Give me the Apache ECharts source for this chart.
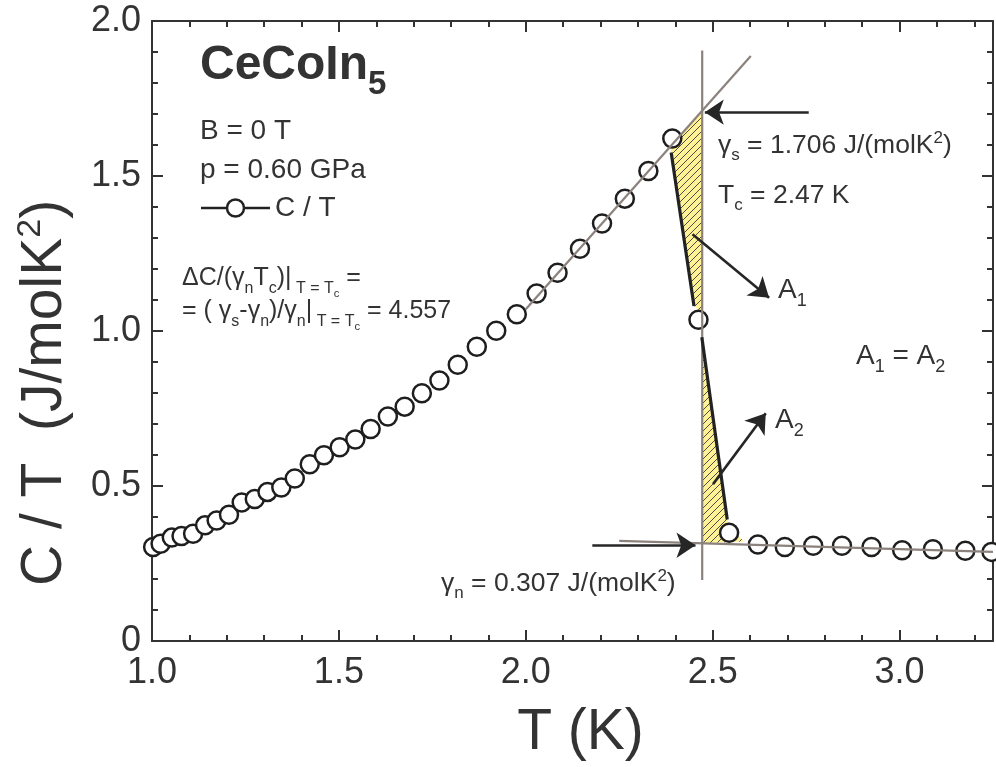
<!DOCTYPE html>
<html><head><meta charset="utf-8">
<script src="https://cdn.jsdelivr.net/npm/echarts@6/dist/echarts.min.js"></script>
<style>html,body{margin:0;padding:0;background:#fff}#c{width:996px;height:767px}</style>
</head><body><div id="c"></div>
<script>
// ---- data ----
const temperature = [1.003,1.023,1.053,1.079,1.110,1.142,1.173,1.206,1.240,1.275,1.309,1.346,1.382,1.422,1.460,1.502,1.544,1.585,1.631,1.676,1.722,1.769,1.818,1.869,1.921,1.976,2.029,2.085,2.145,2.204,2.265,2.328,2.392,2.462,2.544,2.621,2.693,2.769,2.846,2.925,3.007,3.089,3.176,3.246];
const cOverT = [0.3035,0.314,0.3335,0.339,0.346,0.373,0.389,0.407,0.447,0.458,0.481,0.495,0.524,0.570,0.599,0.625,0.650,0.684,0.724,0.756,0.799,0.840,0.891,0.949,1.001,1.054,1.121,1.188,1.265,1.347,1.427,1.516,1.621,1.036,0.3495,0.311,0.3035,0.307,0.307,0.3035,0.293,0.296,0.291,0.2875];

// guide lines
const fitSuperT = [2.0, 2.602];   const fitSuperC = [1.070, 1.887];
const tcLineT   = [2.472, 2.472]; const tcLineC   = [0.197, 1.905];
const fitNormalT = [2.25, 3.25];  const fitNormalC = [0.323, 0.2875];
const dropUpperT = [2.389, 2.450]; const dropUpperC = [1.576, 1.081];
const dropLowerT = [2.471, 2.539]; const dropLowerC = [0.980, 0.392];
// hatched equal-area regions
const areaA1T = [2.386, 2.389, 2.450, 2.472, 2.472]; const areaA1C = [1.596, 1.576, 1.081, 1.060, 1.706];
const areaA2T = [2.472, 2.539, 2.548, 2.584, 2.472]; const areaA2C = [0.985, 0.392, 0.360, 0.321, 0.315];
// arrows [from, to]
const arrowGammaS = [[2.757, 1.706], [2.479, 1.706]];
const arrowGammaN = [[2.178, 0.309], [2.454, 0.309]];
const arrowA1     = [[2.446, 1.312], [2.651, 1.107]];
const arrowA2     = [[2.501, 0.506], [2.642, 0.735]];
// axes
const xRange = [1.0, 3.25]; const yRange = [0, 2.0];
const xMajorStep = 0.5, xMinorStep = 0.1, yMajorStep = 0.5, yMinorStep = 0.1;

// ---- helpers ----
const FONT = '"Liberation Sans", Arial, Helvetica, sans-serif';
const INK = '#333333';
const pairs = (a, b) => a.map((v, i) => [v, b[i]]);

function hatch() {
  const s = 7, cv = document.createElement('canvas');
  cv.width = s; cv.height = s;
  const g = cv.getContext('2d');
  g.fillStyle = '#fff296'; g.fillRect(0, 0, s, s);
  g.strokeStyle = '#3a3a3a'; g.lineWidth = 0.9;
  g.beginPath();
  g.moveTo(0, s); g.lineTo(s, 0);
  g.moveTo(-1, 1); g.lineTo(1, -1);
  g.moveTo(s - 1, s + 1); g.lineTo(s + 1, s - 1);
  g.stroke();
  return cv;
}
const hatchPattern = { image: hatch(), repeat: 'repeat' };

// rich styles: n main, s subscript, t sub-subscript, p superscript
function rich(F, S, bold) {
  const pn = 0.3 * F, L = 1.9 * F, w = bold ? 'bold' : 'normal';
  const base = { fontFamily: FONT, color: INK, lineHeight: L, verticalAlign: 'top', fontWeight: w };
  const mainBase = pn + 0.85 * F;
  const S2 = 0.45 * F;
  return {
    n: Object.assign({}, base, { fontSize: F, padding: [pn, 0, 0, 0] }),
    s: Object.assign({}, base, { fontSize: S, padding: [mainBase + 0.28 * F - 0.85 * S, 0, 0, 0] }),
    t: Object.assign({}, base, { fontSize: S2, padding: [mainBase + 0.45 * F - 0.85 * S2, 0, 0, 0] }),
    p: Object.assign({}, base, { fontSize: S, padding: [pn + 0.134 * F - 0.12 * F - 0.14 * S, 0, 0, 0] })
  };
}
function label(x, yc, text, F, S, bold) {
  const pn = 0.3 * F;
  return {
    type: 'text', x: x, y: yc - pn - F / 2, silent: true, z: 100,
    style: { text: text, rich: rich(F, S, bold), align: 'left', verticalAlign: 'top', fill: INK }
  };
}

function xAxisDef(pos, step, major) {
  return {
    type: 'value', gridIndex: 0, position: pos, min: xRange[0], max: xRange[1], interval: step,
    axisLine: { show: major, onZero: false, lineStyle: { color: INK, width: 2 } },
    axisTick: { show: true, inside: true, length: major ? 11 : 6, lineStyle: { color: INK, width: 2 } },
    axisLabel: {
      show: major && pos === 'bottom', margin: 14, fontSize: 36, color: INK, fontFamily: FONT,
      formatter: v => (Math.abs(v / xMajorStep - Math.round(v / xMajorStep)) < 1e-6 ? v.toFixed(1) : '')
    },
    splitLine: { show: false }, minorTick: { show: false }
  };
}
function yAxisDef(pos, step, major) {
  return {
    type: 'value', gridIndex: 0, position: pos, min: yRange[0], max: yRange[1], interval: step,
    axisLine: { show: major, onZero: false, lineStyle: { color: INK, width: 2 } },
    axisTick: { show: true, inside: true, length: major ? 11 : 6, lineStyle: { color: INK, width: 2 } },
    axisLabel: {
      show: major && pos === 'left', margin: 11, fontSize: 36, color: INK, fontFamily: FONT,
      formatter: v => (v === 0 ? '0' : v.toFixed(1))
    },
    splitLine: { show: false }, minorTick: { show: false }
  };
}

const xAxes = [xAxisDef('bottom', xMajorStep, true), xAxisDef('bottom', xMinorStep, false),
               xAxisDef('top', xMajorStep, true), xAxisDef('top', xMinorStep, false)];
xAxes[0].name = 'T (K)';
xAxes[0].nameLocation = 'middle';
xAxes[0].nameGap = 64;
xAxes[0].nameTextStyle = { fontSize: 57, color: INK, fontFamily: FONT, padding: [0, 0, 0, 16] };
const yAxes = [yAxisDef('left', yMajorStep, true), yAxisDef('left', yMinorStep, false),
               yAxisDef('right', yMajorStep, true), yAxisDef('right', yMinorStep, false)];

const guide = (name, T, C, color, width, z) => ({
  type: 'line', name: name, xAxisIndex: 0, yAxisIndex: 0, data: pairs(T, C), symbol: 'none',
  lineStyle: { color: color, width: width }, z: z, silent: true, clip: true
});
const arrow = (name, seg) => ({
  type: 'lines', name: name, coordinateSystem: 'cartesian2d', xAxisIndex: 0, yAxisIndex: 0,
  data: [{ coords: seg }], symbol: ['none', 'arrow'], symbolSize: [13, 19],
  lineStyle: { color: '#262626', width: 2.6, opacity: 1 }, itemStyle: { color: '#262626' }, z: 6, silent: true
});
const areas = [{ T: areaA1T, C: areaA1C }, { T: areaA2T, C: areaA2C }];

const option = {
  animation: false,
  backgroundColor: '#ffffff',
  grid: { left: 152, right: 2, top: 21, bottom: 120, containLabel: false },
  xAxis: xAxes,
  yAxis: yAxes,
  series: [
    {
      type: 'custom', name: 'A1 / A2', coordinateSystem: 'cartesian2d', xAxisIndex: 0, yAxisIndex: 0, z: 1, silent: true,
      data: areas.map((a, i) => [a.T[0], a.C[0], i]),
      renderItem: function (params, api) {
        const a = areas[api.value(2)];
        const pts = a.T.map((t, k) => api.coord([t, a.C[k]]));
        return { type: 'polygon', shape: { points: pts }, style: { fill: hatchPattern, stroke: null } };
      }
    },
    {
      type: 'scatter', name: 'C / T', xAxisIndex: 0, yAxisIndex: 0, data: pairs(temperature, cOverT),
      symbol: 'circle', symbolSize: 18, z: 3, silent: true,
      itemStyle: { color: '#ffffff', borderColor: '#1e1e1e', borderWidth: 2.5, opacity: 1 }
    },
    guide('fit superconducting', fitSuperT, fitSuperC, '#8c827d', 2.2, 4),
    guide('Tc', tcLineT, tcLineC, '#8c827d', 2.2, 4),
    guide('fit normal', fitNormalT, fitNormalC, '#8c827d', 2.2, 4),
    guide('entropy upper', dropUpperT, dropUpperC, '#222222', 3.2, 5),
    guide('entropy lower', dropLowerT, dropLowerC, '#222222', 3.2, 5),
    arrow('gamma s', arrowGammaS),
    arrow('gamma n', arrowGammaN),
    arrow('A1', arrowA1),
    arrow('A2', arrowA2)
  ],
  graphic: [
    label(200, 66, '{n|CeCoIn}{s|5}', 48, 33, true),
    label(200, 131, '{n|B = 0 T}', 28, 18),
    label(200, 170, '{n|p = 0.60 GPa}', 28, 18),
    { type: 'line', silent: true, z: 100, shape: { x1: 201, y1: 208, x2: 270, y2: 208 }, style: { stroke: '#222', lineWidth: 2.5 } },
    { type: 'circle', silent: true, z: 101, shape: { cx: 235.5, cy: 208, r: 8.5 }, style: { fill: '#fff', stroke: '#222', lineWidth: 2.5 } },
    label(275, 208, '{n|C / T}', 28, 18),
    label(182, 278, '{n|ΔC/(γ}{s|n}{n|T}{s|c}{n|)|}{s| T = T}{t|c}{n| =}', 25, 16),
    label(182, 311, '{n|= ( γ}{s|s}{n|-γ}{s|n}{n|)/γ}{s|n}{n||}{s| T = T}{t|c}{n| = 4.557}', 25, 16),
    label(718, 145, '{n|γ}{s|s}{n| = 1.706 J/(molK}{p|2}{n|)}', 26.5, 17),
    label(718, 195, '{n|T}{s|c}{n| = 2.47 K}', 26.5, 17),
    label(778, 290, '{n|A}{s|1}', 28, 18),
    label(856, 356, '{n|A}{s|1}{n| = A}{s|2}', 28, 18),
    label(775, 420, '{n|A}{s|2}', 28, 18),
    label(441, 583, '{n|γ}{s|n}{n| = 0.307 J/(molK}{p|2}{n|)}', 26.5, 17),
    {
      type: 'text', x: 45, y: 393, rotation: Math.PI / 2, silent: true, z: 100,
      style: {
        text: '{n|C / T  (J/molK}{p|2}{n|)}', align: 'center', verticalAlign: 'middle', fill: INK,
        rich: {
          n: { fontSize: 57, fontFamily: FONT, color: INK, lineHeight: 66 },
          p: { fontSize: 34, fontFamily: FONT, color: INK, lineHeight: 66, padding: [0, 0, 28, 0] }
        }
      }
    }
  ]
};
const chart = echarts.init(document.getElementById('c'), null, { renderer: 'canvas', width: 996, height: 767 });
chart.setOption(option);
</script></body></html>
